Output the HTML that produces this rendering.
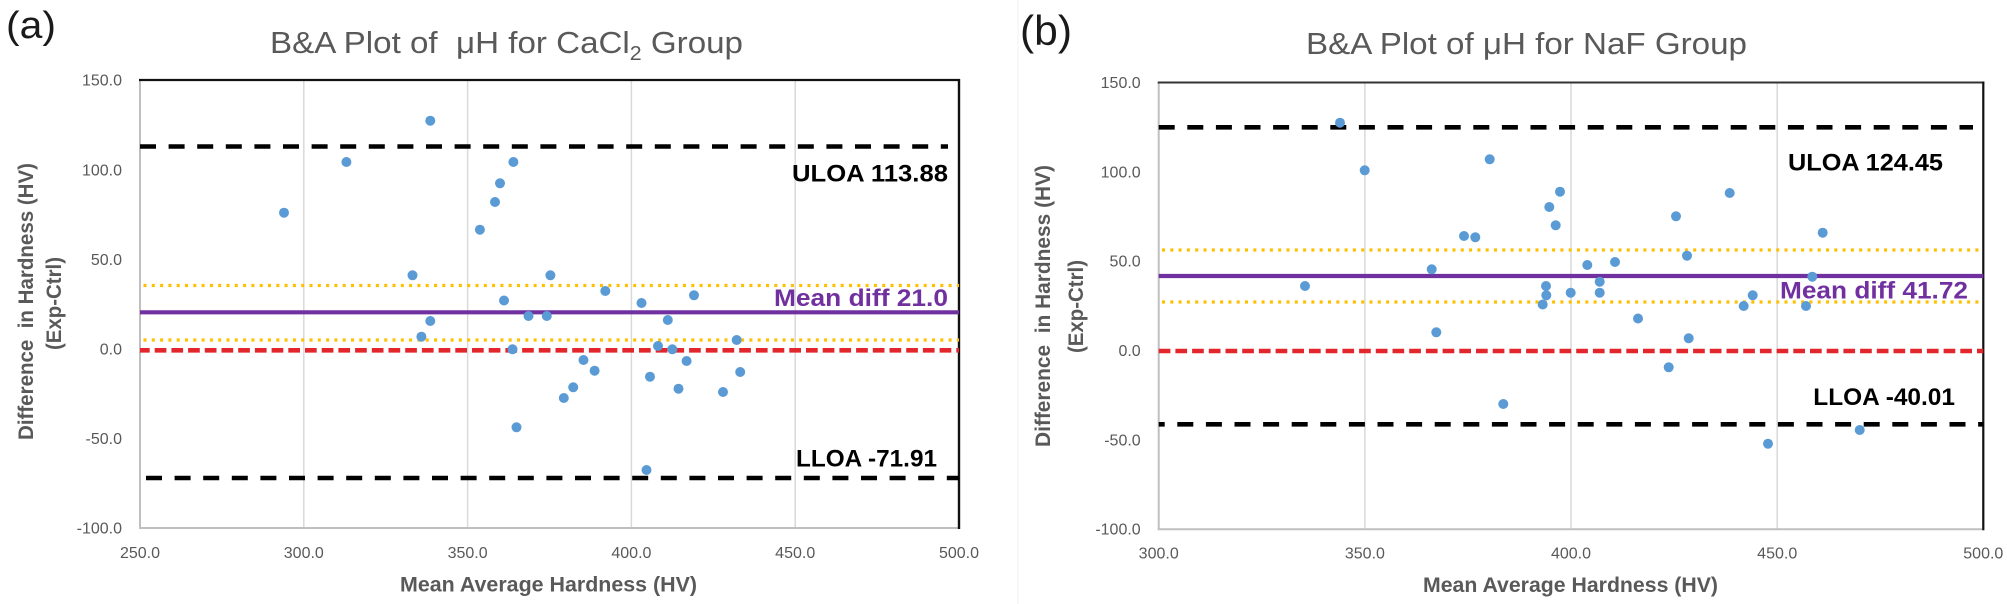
<!DOCTYPE html>
<html>
<head>
<meta charset="utf-8">
<style>
  html, body { margin: 0; padding: 0; background: #ffffff; }
  svg { display: block; }
  text { font-family: "Liberation Sans", "DejaVu Sans", sans-serif; }
</style>
</head>
<body>
<svg xmlns="http://www.w3.org/2000/svg" width="2007" height="604" viewBox="0 0 2007 604">
  <rect x="0" y="0" width="2007" height="604" fill="#ffffff"/>

  <!-- faint chart frame for (b) -->
  <line x1="1018" y1="0" x2="1018" y2="604" stroke="#f0f0f0" stroke-width="1"/>

  <!-- ================= CHART (a) ================= -->
  <text x="6" y="38" font-size="38" fill="#1a1a1a" textLength="50" lengthAdjust="spacingAndGlyphs">(a)</text>
  <text x="270" y="53" font-size="31" fill="#595959" textLength="473" lengthAdjust="spacingAndGlyphs">B&amp;A Plot of&#160;&#160;μH for CaCl<tspan dy="7" font-size="20">2</tspan><tspan dy="-7"> Group</tspan></text>

  <!-- gridlines -->
  <g stroke="#d9d9d9" stroke-width="1.5">
    <line x1="303.8" y1="80" x2="303.8" y2="528"/>
    <line x1="467.6" y1="80" x2="467.6" y2="528"/>
    <line x1="631.4" y1="80" x2="631.4" y2="528"/>
    <line x1="795.2" y1="80" x2="795.2" y2="528"/>
  </g>
  <!-- axes / border -->
  <line x1="140" y1="80" x2="140" y2="528" stroke="#bfbfbf" stroke-width="2"/>
  <line x1="139" y1="528" x2="959" y2="528" stroke="#bfbfbf" stroke-width="2"/>
  <line x1="139" y1="80" x2="960" y2="80" stroke="#111" stroke-width="2.2"/>
  <line x1="959" y1="79" x2="959" y2="529" stroke="#111" stroke-width="2.4"/>

  <!-- reference lines -->
  <line x1="140" y1="146.5" x2="948" y2="146.5" stroke="#000" stroke-width="4.6" stroke-dasharray="16 12.6"/>
  <line x1="146" y1="478" x2="959" y2="478" stroke="#000" stroke-width="4.6" stroke-dasharray="16 12.6"/>
  <line x1="143.5" y1="285.5" x2="959" y2="285.5" stroke="#ffc000" stroke-width="3.2" stroke-dasharray="3 5.3"/>
  <line x1="143.5" y1="340" x2="959" y2="340" stroke="#ffc000" stroke-width="3.2" stroke-dasharray="3 5.3"/>
  <line x1="140" y1="312.3" x2="959" y2="312.3" stroke="#7030a0" stroke-width="4.2"/>
  <line x1="140" y1="350.3" x2="959" y2="350.3" stroke="#e2262c" stroke-width="4.6" stroke-dasharray="11.7 5" stroke-dashoffset="2"/>

  <!-- points (a) -->
  <g fill="#5b9bd5">
    <circle cx="284" cy="212.7" r="5"/>
    <circle cx="346.4" cy="162" r="5"/>
    <circle cx="430.3" cy="120.7" r="5"/>
    <circle cx="479.9" cy="229.7" r="5"/>
    <circle cx="495" cy="202" r="5"/>
    <circle cx="500" cy="183.3" r="5"/>
    <circle cx="513.4" cy="162" r="5"/>
    <circle cx="412.5" cy="275.3" r="5"/>
    <circle cx="550.4" cy="275.3" r="5"/>
    <circle cx="504" cy="300.5" r="5"/>
    <circle cx="605.3" cy="291" r="5"/>
    <circle cx="641.5" cy="303" r="5"/>
    <circle cx="694" cy="295.3" r="5"/>
    <circle cx="528.5" cy="316" r="5"/>
    <circle cx="546.8" cy="316" r="5"/>
    <circle cx="430.3" cy="321" r="5"/>
    <circle cx="667.8" cy="320" r="5"/>
    <circle cx="421.4" cy="336.7" r="5"/>
    <circle cx="512.5" cy="349.3" r="5"/>
    <circle cx="516.5" cy="427.3" r="5"/>
    <circle cx="583.5" cy="360" r="5"/>
    <circle cx="594.6" cy="370.7" r="5"/>
    <circle cx="573.2" cy="387.3" r="5"/>
    <circle cx="563.8" cy="398" r="5"/>
    <circle cx="650" cy="376.7" r="5"/>
    <circle cx="658" cy="346" r="5"/>
    <circle cx="672.3" cy="349.3" r="5"/>
    <circle cx="678.5" cy="388.7" r="5"/>
    <circle cx="686.6" cy="361" r="5"/>
    <circle cx="646.5" cy="470" r="5"/>
    <circle cx="723" cy="392" r="5"/>
    <circle cx="736.7" cy="340" r="5"/>
    <circle cx="740.2" cy="372" r="5"/>
  </g>

  <!-- line labels (a) -->
  <text x="792" y="181.7" font-size="24" font-weight="bold" fill="#000" textLength="156" lengthAdjust="spacingAndGlyphs">ULOA 113.88</text>
  <text x="774" y="306" font-size="24" font-weight="bold" fill="#7030a0" textLength="174" lengthAdjust="spacingAndGlyphs">Mean diff 21.0</text>
  <text x="796" y="466.7" font-size="24" font-weight="bold" fill="#000" textLength="141" lengthAdjust="spacingAndGlyphs">LLOA -71.91</text>

  <!-- y tick labels (a) -->
  <g font-size="16" fill="#595959" text-anchor="end">
    <text x="122" y="85.7">150.0</text>
    <text x="122" y="175.3">100.0</text>
    <text x="122" y="264.9">50.0</text>
    <text x="122" y="354.5">0.0</text>
    <text x="122" y="444.1">-50.0</text>
    <text x="122" y="533.7">-100.0</text>
  </g>
  <!-- x tick labels (a) -->
  <g font-size="16" fill="#595959" text-anchor="middle">
    <text x="140" y="558">250.0</text>
    <text x="303.8" y="558">300.0</text>
    <text x="467.6" y="558">350.0</text>
    <text x="631.4" y="558">400.0</text>
    <text x="795.2" y="558">450.0</text>
    <text x="959" y="558">500.0</text>
  </g>
  <!-- axis titles (a) -->
  <text x="400" y="591.7" font-size="21" font-weight="bold" fill="#595959" textLength="297" lengthAdjust="spacingAndGlyphs">Mean Average Hardness (HV)</text>
  <text transform="translate(33,301.5) rotate(-90)" x="0" y="0" font-size="21" font-weight="bold" fill="#595959" text-anchor="middle" textLength="277" lengthAdjust="spacingAndGlyphs">Difference&#160; in Hardness (HV)</text>
  <text transform="translate(61,303.5) rotate(-90)" x="0" y="0" font-size="21" font-weight="bold" fill="#595959" text-anchor="middle" textLength="93" lengthAdjust="spacingAndGlyphs">(Exp-Ctrl)</text>

  <!-- ================= CHART (b) ================= -->
  <text x="1020" y="45" font-size="42" fill="#1a1a1a" textLength="52" lengthAdjust="spacingAndGlyphs">(b)</text>
  <text x="1306" y="54" font-size="31" fill="#595959" textLength="441" lengthAdjust="spacingAndGlyphs">B&amp;A Plot of μH for NaF Group</text>

  <g stroke="#d9d9d9" stroke-width="1.5">
    <line x1="1364.9" y1="82.5" x2="1364.9" y2="529.3"/>
    <line x1="1571" y1="82.5" x2="1571" y2="529.3"/>
    <line x1="1777.2" y1="82.5" x2="1777.2" y2="529.3"/>
  </g>
  <line x1="1158.7" y1="82.5" x2="1158.7" y2="529.3" stroke="#bfbfbf" stroke-width="2"/>
  <line x1="1157.7" y1="529.3" x2="1983.3" y2="529.3" stroke="#bfbfbf" stroke-width="2"/>
  <line x1="1157.7" y1="82.5" x2="1984.3" y2="82.5" stroke="#333" stroke-width="2"/>
  <line x1="1983.3" y1="81.5" x2="1983.3" y2="530.3" stroke="#111" stroke-width="2.2"/>

  <line x1="1158.7" y1="127.3" x2="1973" y2="127.3" stroke="#000" stroke-width="4.6" stroke-dasharray="16 12.6"/>
  <line x1="1158.7" y1="424.3" x2="1983.3" y2="424.3" stroke="#000" stroke-width="4.6" stroke-dasharray="16 12.6" stroke-dashoffset="10"/>
  <line x1="1162" y1="250" x2="1983.3" y2="250" stroke="#ffc000" stroke-width="3.2" stroke-dasharray="3 5.3"/>
  <line x1="1162" y1="302" x2="1983.3" y2="302" stroke="#ffc000" stroke-width="3.2" stroke-dasharray="3 5.3"/>
  <line x1="1158.7" y1="276" x2="1983.3" y2="276" stroke="#7030a0" stroke-width="4.2"/>
  <line x1="1158.7" y1="351" x2="1983.3" y2="351" stroke="#e2262c" stroke-width="4.6" stroke-dasharray="11.7 5"/>

  <g fill="#5b9bd5">
    <circle cx="1305" cy="286" r="5"/>
    <circle cx="1340" cy="122.7" r="5"/>
    <circle cx="1364.7" cy="170.3" r="5"/>
    <circle cx="1431.7" cy="269.3" r="5"/>
    <circle cx="1436.3" cy="332.3" r="5"/>
    <circle cx="1464" cy="236" r="5"/>
    <circle cx="1475.3" cy="237.3" r="5"/>
    <circle cx="1489.7" cy="159.3" r="5"/>
    <circle cx="1503.3" cy="404" r="5"/>
    <circle cx="1542.7" cy="304.5" r="5"/>
    <circle cx="1546.3" cy="295.3" r="5"/>
    <circle cx="1546" cy="286" r="5"/>
    <circle cx="1549.3" cy="207" r="5"/>
    <circle cx="1555.7" cy="225.3" r="5"/>
    <circle cx="1560" cy="191.7" r="5"/>
    <circle cx="1570.7" cy="292.7" r="5"/>
    <circle cx="1587.3" cy="265" r="5"/>
    <circle cx="1599.7" cy="281.7" r="5"/>
    <circle cx="1599.7" cy="292.7" r="5"/>
    <circle cx="1615" cy="262" r="5"/>
    <circle cx="1638" cy="318.5" r="5"/>
    <circle cx="1668.7" cy="367.3" r="5"/>
    <circle cx="1676" cy="216.3" r="5"/>
    <circle cx="1687" cy="255.7" r="5"/>
    <circle cx="1688.7" cy="338.3" r="5"/>
    <circle cx="1729.7" cy="193" r="5"/>
    <circle cx="1743.7" cy="306" r="5"/>
    <circle cx="1752.7" cy="295.3" r="5"/>
    <circle cx="1768" cy="443.7" r="5"/>
    <circle cx="1806" cy="306" r="5"/>
    <circle cx="1812.3" cy="276.7" r="5"/>
    <circle cx="1822.7" cy="232.7" r="5"/>
    <circle cx="1859.7" cy="430" r="5"/>
  </g>

  <text x="1788" y="170.7" font-size="24" font-weight="bold" fill="#000" textLength="155" lengthAdjust="spacingAndGlyphs">ULOA 124.45</text>
  <text x="1780" y="298.3" font-size="24" font-weight="bold" fill="#7030a0" textLength="188" lengthAdjust="spacingAndGlyphs">Mean diff 41.72</text>
  <text x="1813.3" y="405" font-size="24" font-weight="bold" fill="#000" textLength="141.7" lengthAdjust="spacingAndGlyphs">LLOA -40.01</text>

  <g font-size="16" fill="#595959" text-anchor="end">
    <text x="1140.7" y="88.2">150.0</text>
    <text x="1140.7" y="177.5">100.0</text>
    <text x="1140.7" y="266.7">50.0</text>
    <text x="1140.7" y="356.1">0.0</text>
    <text x="1140.7" y="445.4">-50.0</text>
    <text x="1140.7" y="534.7">-100.0</text>
  </g>
  <g font-size="16" fill="#595959" text-anchor="middle">
    <text x="1158.7" y="558.3">300.0</text>
    <text x="1364.9" y="558.3">350.0</text>
    <text x="1571" y="558.3">400.0</text>
    <text x="1777.2" y="558.3">450.0</text>
    <text x="1983.3" y="558.3">500.0</text>
  </g>
  <text x="1423" y="592" font-size="21" font-weight="bold" fill="#595959" textLength="295" lengthAdjust="spacingAndGlyphs">Mean Average Hardness (HV)</text>
  <text transform="translate(1050,306) rotate(-90)" x="0" y="0" font-size="21" font-weight="bold" fill="#595959" text-anchor="middle" textLength="282" lengthAdjust="spacingAndGlyphs">Difference&#160; in Hardness (HV)</text>
  <text transform="translate(1083,306.5) rotate(-90)" x="0" y="0" font-size="21" font-weight="bold" fill="#595959" text-anchor="middle" textLength="93" lengthAdjust="spacingAndGlyphs">(Exp-Ctrl)</text>
</svg>
</body>
</html>
